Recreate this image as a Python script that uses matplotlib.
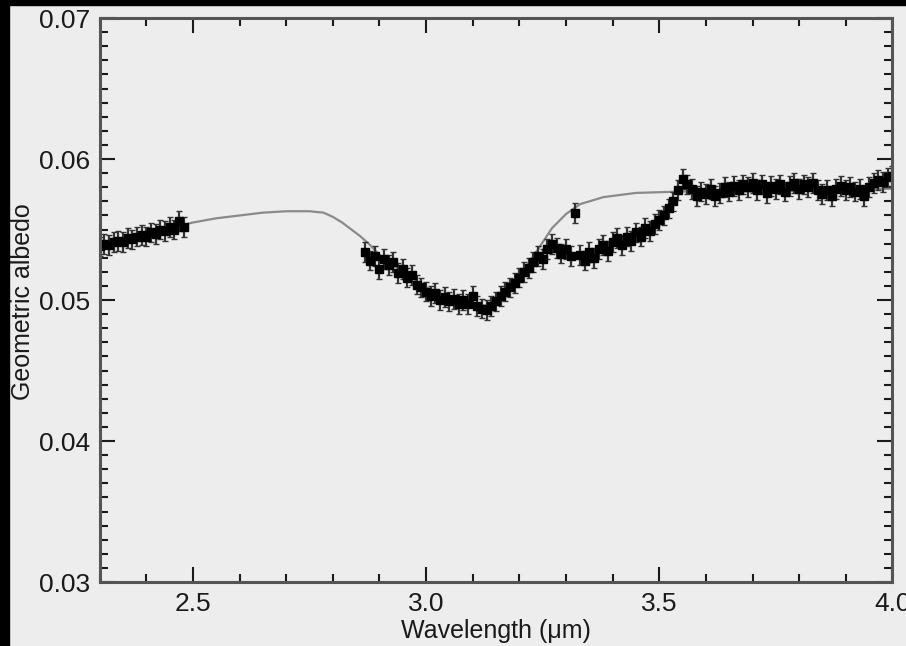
import numpy as np
import matplotlib
matplotlib.use("Agg")
import matplotlib.pyplot as plt
from matplotlib.patches import Rectangle
from matplotlib.ticker import MultipleLocator

plt.rcParams['font.family'] = ['Liberation Sans', 'DejaVu Sans']

# short-wavelength data segment
wl_short = [2.30, 2.31, 2.32, 2.33, 2.34, 2.35, 2.36, 2.37, 2.38, 2.39,
            2.40, 2.41, 2.42, 2.43, 2.44, 2.45, 2.46, 2.47, 2.48]
alb_short = [0.0538, 0.0540, 0.0539, 0.0541, 0.0542, 0.0541, 0.0544, 0.0543, 0.0545, 0.0546,
             0.0545, 0.0548, 0.0547, 0.0550, 0.0549, 0.0552, 0.0550, 0.0556, 0.0552]

# long-wavelength data segment
wl_long = [2.87, 2.88, 2.89, 2.90, 2.91, 2.92, 2.93, 2.94, 2.95, 2.96, 2.97, 2.98, 2.99,
           3.00, 3.01, 3.02, 3.03, 3.04, 3.05, 3.06, 3.07, 3.08, 3.09,
           3.10, 3.11, 3.12, 3.13, 3.14, 3.15, 3.16, 3.17, 3.18, 3.19,
           3.20, 3.21, 3.22, 3.23, 3.24, 3.25, 3.26, 3.27, 3.28, 3.29,
           3.30, 3.31, 3.32, 3.33, 3.34, 3.35, 3.36, 3.37, 3.38, 3.39,
           3.40, 3.41, 3.42, 3.43, 3.44, 3.45, 3.46, 3.47, 3.48, 3.49,
           3.50, 3.51, 3.52, 3.53, 3.54, 3.55, 3.56, 3.57, 3.58, 3.59,
           3.60, 3.61, 3.62, 3.63, 3.64, 3.65, 3.66, 3.67, 3.68, 3.69,
           3.70, 3.71, 3.72, 3.73, 3.74, 3.75, 3.76, 3.77, 3.78, 3.79,
           3.80, 3.81, 3.82, 3.83, 3.84, 3.85, 3.86, 3.87, 3.88, 3.89,
           3.90, 3.91, 3.92, 3.93, 3.94, 3.95, 3.96, 3.97, 3.98, 3.99, 4.00]
alb_long = [0.0534, 0.0528, 0.0531, 0.0522, 0.0529, 0.0525, 0.0527, 0.0519, 0.0522, 0.0516, 0.0518, 0.0511, 0.0509,
            0.0506, 0.0503, 0.0505, 0.0500, 0.0502, 0.0499, 0.0501, 0.0497, 0.0500, 0.0497,
            0.0503, 0.0496, 0.0494, 0.0493, 0.0496, 0.0499, 0.0503, 0.0506, 0.0509, 0.0512,
            0.0516, 0.0520, 0.0523, 0.0527, 0.0531, 0.0529, 0.0536, 0.0540, 0.0537, 0.0533,
            0.0536, 0.0531, 0.0562, 0.0532, 0.0528, 0.0534, 0.0530, 0.0536, 0.0539, 0.0535,
            0.0541, 0.0544, 0.0539, 0.0545, 0.0542, 0.0548, 0.0545, 0.0551, 0.0549, 0.0554,
            0.0557, 0.0560, 0.0565, 0.0570, 0.0578, 0.0586, 0.0582, 0.0579, 0.0574, 0.0577,
            0.0575, 0.0579, 0.0574, 0.0576, 0.0580, 0.0577, 0.0581, 0.0578, 0.0582, 0.0580,
            0.0583, 0.0578, 0.0582, 0.0576, 0.0581, 0.0579, 0.0582, 0.0577, 0.0581, 0.0583,
            0.0579, 0.0582, 0.0580, 0.0583, 0.0578, 0.0575, 0.0578, 0.0574, 0.0579, 0.0581,
            0.0578, 0.0580, 0.0577, 0.0579, 0.0574, 0.0580, 0.0583, 0.0585, 0.0584, 0.0587, 0.0588]
alb_err = 0.0007

# model curve
wl_model = [2.30, 2.35, 2.40, 2.45, 2.50, 2.55, 2.60, 2.65, 2.70, 2.75, 2.78, 2.80,
            2.82, 2.84, 2.86, 2.88, 2.90, 2.95, 3.00, 3.05, 3.10, 3.13, 3.16, 3.19,
            3.22, 3.25, 3.27, 3.30, 3.33, 3.38, 3.45, 3.55, 3.70, 3.85, 4.00]
alb_model = [0.0539, 0.0543, 0.0547, 0.0551, 0.0555, 0.0558, 0.0560, 0.0562, 0.0563, 0.0563, 0.0562, 0.0559,
             0.0555, 0.0550, 0.0545, 0.0539, 0.0532, 0.0520, 0.0509, 0.0501, 0.0497, 0.0496, 0.0501, 0.0511,
             0.0526, 0.0541, 0.0551, 0.0561, 0.0568, 0.0573, 0.0576, 0.0577, 0.0577, 0.0578, 0.0579]

fig = plt.figure(figsize=(9.06, 6.46), dpi=100, facecolor='#ededed')
ax = fig.add_axes([0.110, 0.099, 0.875, 0.873])
ax.set_facecolor('#ededed')

# black frame on left and top of the picture
fig.patches.append(Rectangle((0, 0), 9 / 906, 1, transform=fig.transFigure,
                             color='black', zorder=-1))
fig.patches.append(Rectangle((0, 1 - 5 / 646), 1, 5 / 646, transform=fig.transFigure,
                             color='black', zorder=-1))

for wl, alb in [(wl_short, alb_short), (wl_long, alb_long)]:
    ax.errorbar(wl, alb, yerr=alb_err, fmt='s', color='black', ms=6,
                ecolor='#333333', elinewidth=1.6, capsize=2, zorder=2)
ax.plot(wl_model, alb_model, color='#8a8a8a', lw=1.6, zorder=1)

ax.set_xlim(2.3, 4.0)
ax.set_ylim(0.03, 0.07)
ax.set_xticks([2.5, 3.0, 3.5, 4.0])
ax.set_yticks([0.03, 0.04, 0.05, 0.06, 0.07])
ax.xaxis.set_minor_locator(MultipleLocator(0.1))
ax.yaxis.set_minor_locator(MultipleLocator(0.001))
ax.tick_params(which='both', direction='in', top=True, right=True,
               colors='#1a1a1a', labelsize=19, width=1.5)
ax.tick_params(which='major', length=11, pad=7)
ax.tick_params(which='minor', length=6)
for s in ax.spines.values():
    s.set_color('#555555')
    s.set_linewidth(2.2)

ax.set_xlabel('Wavelength (μm)', fontsize=18, color='#1a1a1a', labelpad=2)
ax.set_ylabel('Geometric albedo', fontsize=18, color='#1a1a1a')
ax.yaxis.set_label_coords(-0.081, 0.498)

fig.savefig('out.png', dpi=100, facecolor=fig.get_facecolor())
